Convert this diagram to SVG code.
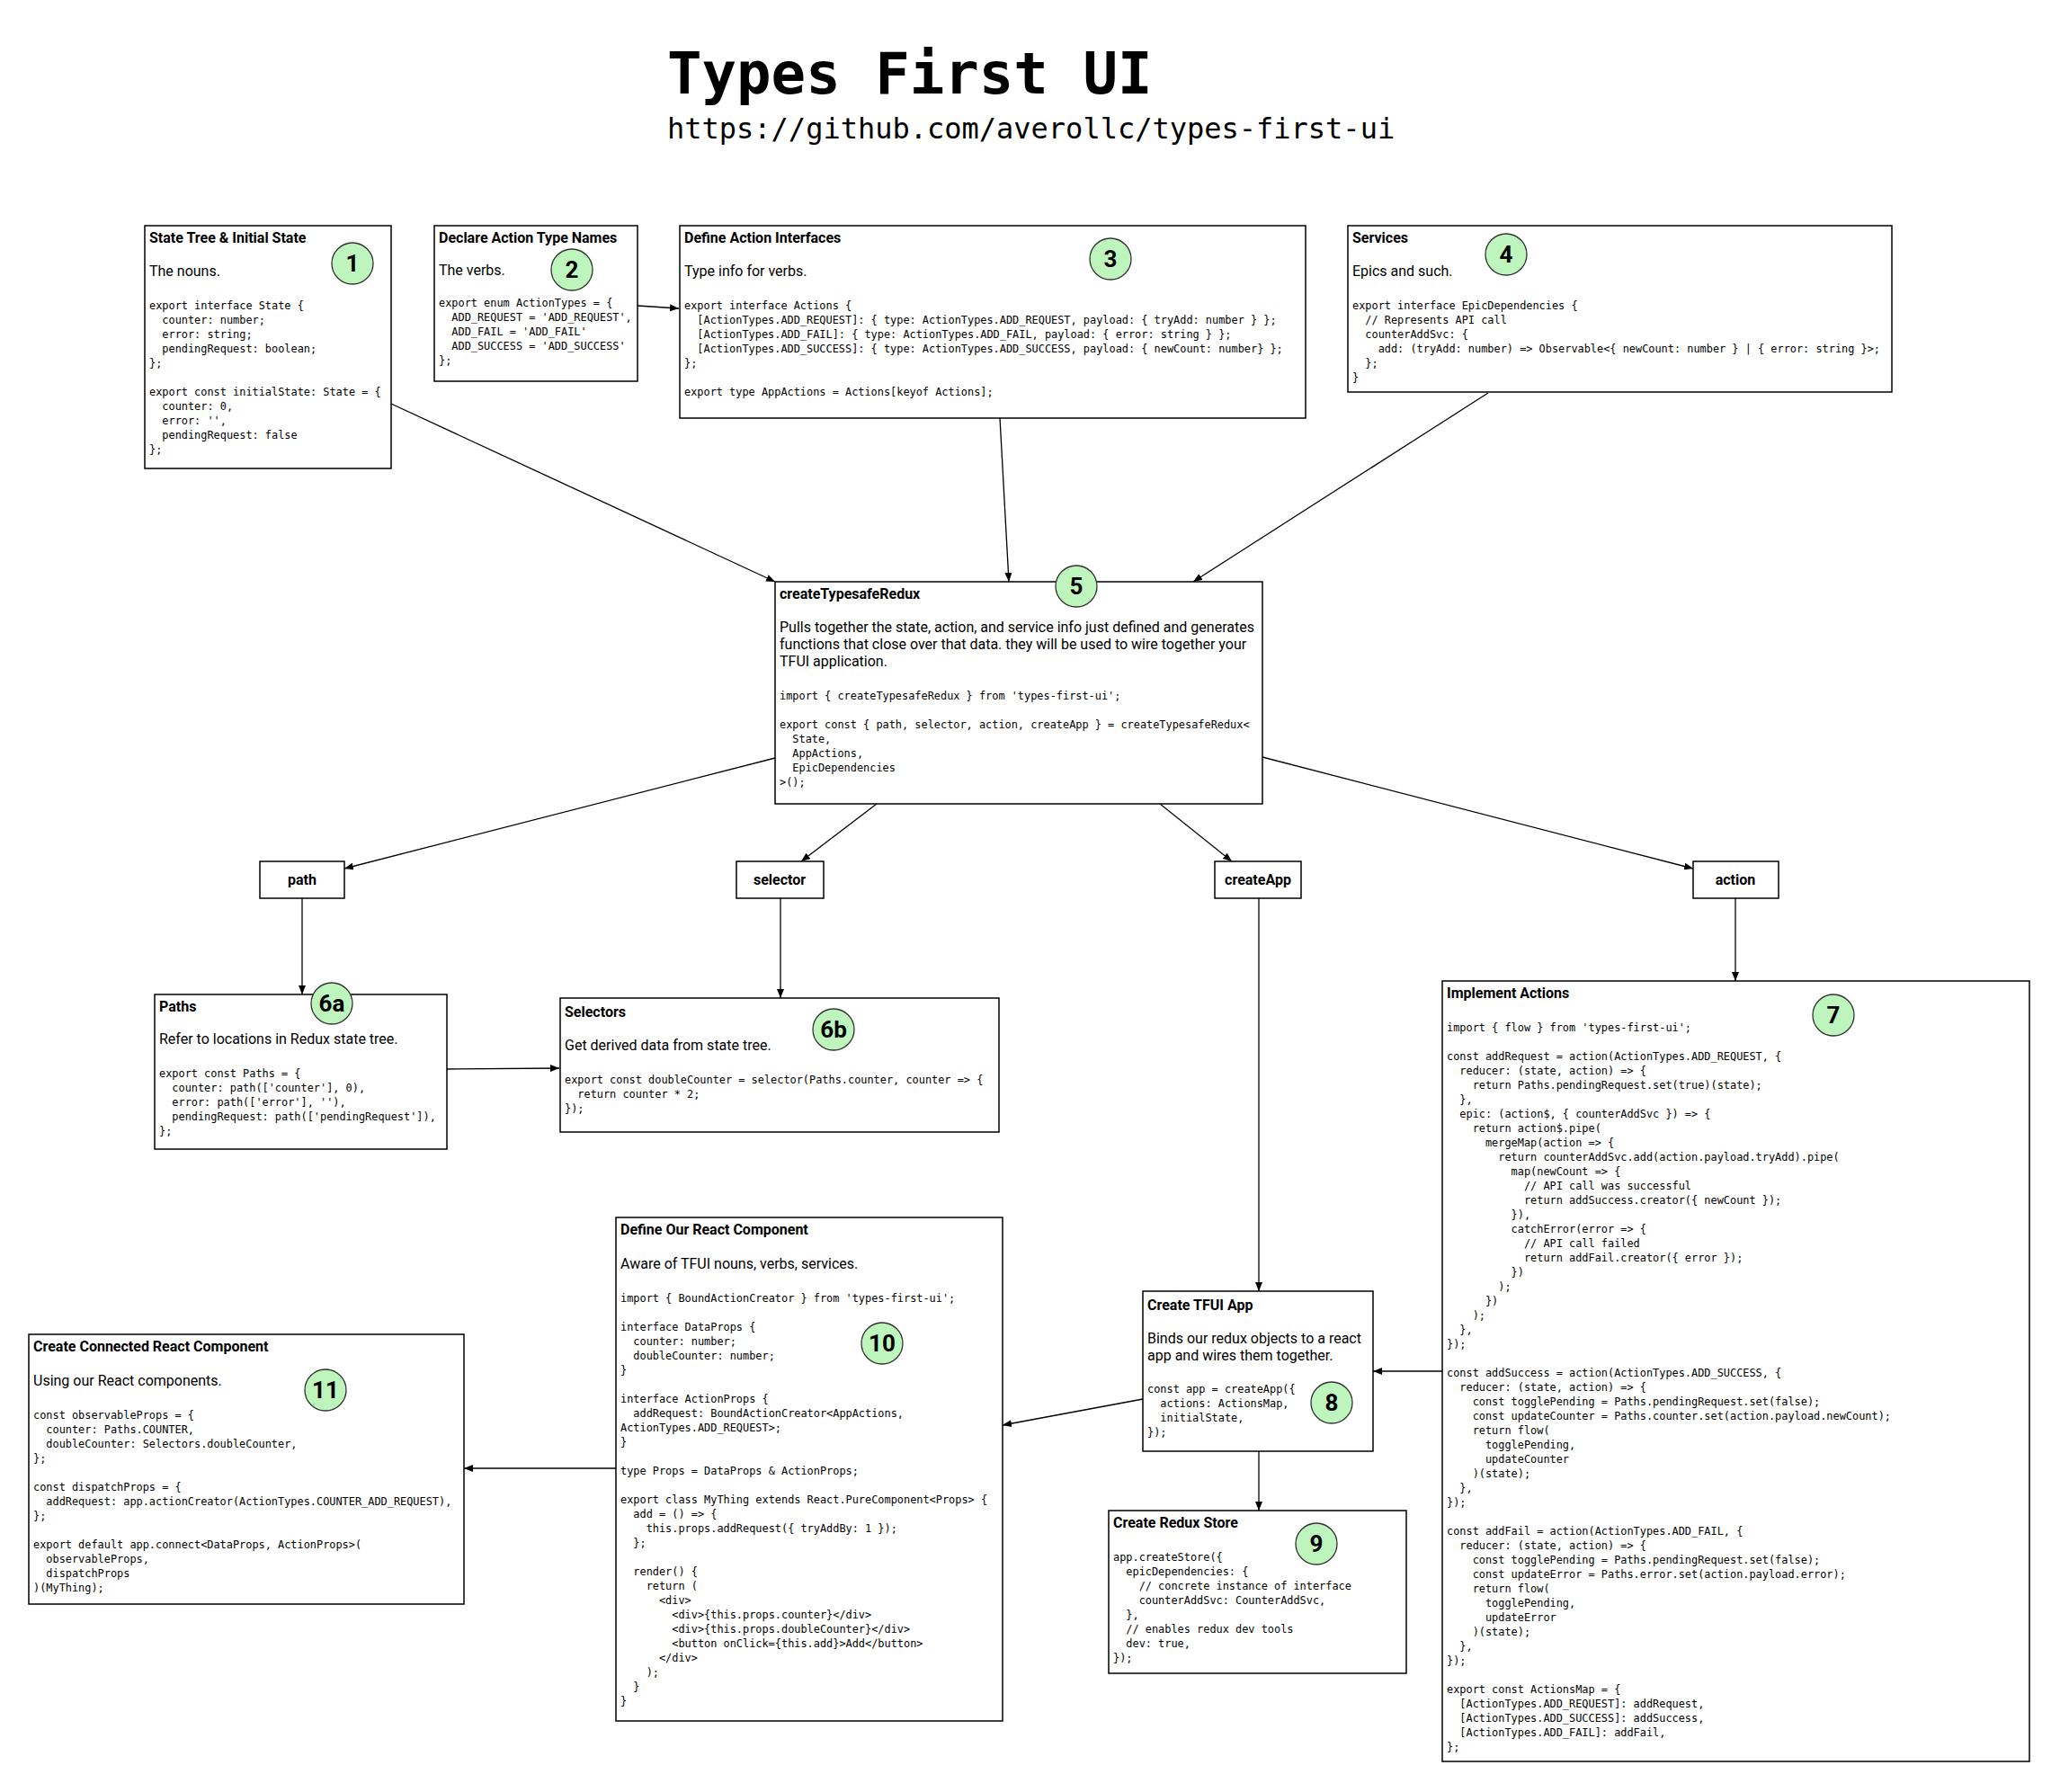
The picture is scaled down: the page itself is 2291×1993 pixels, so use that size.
<svg xmlns="http://www.w3.org/2000/svg" width="2291" height="1993" viewBox="0 0 2291 1993">
<defs>
<style>
.bg{fill:#fff}
.box{fill:#fff;stroke:#000;stroke-width:1.5}
.ttl{font-family:Roboto,"Liberation Sans",sans-serif;font-weight:700;font-size:16px;fill:#000}
.lbl{font-family:Roboto,"Liberation Sans",sans-serif;font-weight:700;font-size:16px;fill:#000;text-anchor:middle}
.body{font-family:Roboto,"Liberation Sans",sans-serif;font-size:16px;fill:#000}
.code{font-family:"DejaVu Sans Mono","Liberation Mono",monospace;font-size:11.9px;fill:#000;white-space:pre}
.badge circle{fill:#bdf5bd;stroke:#333;stroke-width:1.3}
.badge text{font-family:Roboto,"Liberation Sans",sans-serif;font-weight:700;font-size:26px;fill:#000;text-anchor:middle}
.edge{stroke:#000;stroke-width:1.3;fill:none;marker-end:url(#arr)}
.h1{font-family:"DejaVu Sans Mono","Liberation Mono",monospace;font-weight:700;font-size:64px;fill:#000}
.h2{font-family:"DejaVu Sans Mono","Liberation Mono",monospace;font-size:32px;fill:#000}
</style>
<marker id="arr" viewBox="0 0 10 8" refX="10" refY="4" markerWidth="10" markerHeight="8" markerUnits="userSpaceOnUse" orient="auto">
<path d="M0,0 L10,4 L0,8 z" fill="#000"/>
</marker>
</defs>
<rect class="bg" x="0" y="0" width="2291" height="1993"/>

<g id="title">
<text class="h1" x="742" y="104">Types First UI</text>
<text class="h2" x="742" y="154">https://github.com/averollc/types-first-ui</text>
</g>

<g id="connectors">
<line class="edge" x1="435" y1="449" x2="862" y2="647"/>
<line class="edge" x1="709" y1="340" x2="755" y2="343"/>
<line class="edge" x1="1112" y1="465" x2="1122" y2="647"/>
<line class="edge" x1="1655" y1="437" x2="1327" y2="647"/>
<line class="edge" x1="862" y1="843" x2="383" y2="966"/>
<line class="edge" x1="975" y1="894" x2="891" y2="958"/>
<line class="edge" x1="1290" y1="894" x2="1370" y2="958"/>
<line class="edge" x1="1404" y1="842" x2="1883" y2="966"/>
<line class="edge" x1="336" y1="999" x2="336" y2="1106"/>
<line class="edge" x1="868" y1="999" x2="868" y2="1110"/>
<line class="edge" x1="1400" y1="999" x2="1400" y2="1436"/>
<line class="edge" x1="1930" y1="999" x2="1930" y2="1091"/>
<line class="edge" x1="497" y1="1189" x2="622" y2="1188"/>
<line class="edge" x1="1604" y1="1525" x2="1527" y2="1525"/>
<line class="edge" x1="1271" y1="1556" x2="1115" y2="1585"/>
<line class="edge" x1="1400" y1="1614" x2="1400" y2="1680"/>
<line class="edge" x1="685" y1="1633" x2="516" y2="1633"/>
</g>

<g id="node1">
<rect class="box" x="161" y="251" width="274" height="270"/>
<text class="ttl" x="166" y="270">State Tree &amp; Initial State</text>
<text class="body" x="166" y="307">The nouns.</text>
<text class="code">
<tspan x="166" y="344">export interface State {</tspan>
<tspan x="166" y="360">  counter: number;</tspan>
<tspan x="166" y="376">  error: string;</tspan>
<tspan x="166" y="392">  pendingRequest: boolean;</tspan>
<tspan x="166" y="408">};</tspan>
<tspan x="166" y="440">export const initialState: State = {</tspan>
<tspan x="166" y="456">  counter: 0,</tspan>
<tspan x="166" y="472">  error: '',</tspan>
<tspan x="166" y="488">  pendingRequest: false</tspan>
<tspan x="166" y="504">};</tspan>
</text>
<g class="badge"><circle cx="392" cy="293" r="23"/><text x="392" y="302">1</text></g>
</g>

<g id="node2">
<rect class="box" x="483" y="251" width="226" height="173"/>
<text class="ttl" x="488" y="270">Declare Action Type Names</text>
<text class="body" x="488" y="306">The verbs.</text>
<text class="code">
<tspan x="488" y="341">export enum ActionTypes = {</tspan>
<tspan x="488" y="357">  ADD_REQUEST = 'ADD_REQUEST',</tspan>
<tspan x="488" y="373">  ADD_FAIL = 'ADD_FAIL'</tspan>
<tspan x="488" y="389">  ADD_SUCCESS = 'ADD_SUCCESS'</tspan>
<tspan x="488" y="405">};</tspan>
</text>
<g class="badge"><circle cx="636" cy="300" r="23"/><text x="636" y="309">2</text></g>
</g>

<g id="node3">
<rect class="box" x="756" y="251" width="696" height="214"/>
<text class="ttl" x="761" y="270">Define Action Interfaces</text>
<text class="body" x="761" y="307">Type info for verbs.</text>
<text class="code">
<tspan x="761" y="344">export interface Actions {</tspan>
<tspan x="761" y="360">  [ActionTypes.ADD_REQUEST]: { type: ActionTypes.ADD_REQUEST, payload: { tryAdd: number } };</tspan>
<tspan x="761" y="376">  [ActionTypes.ADD_FAIL]: { type: ActionTypes.ADD_FAIL, payload: { error: string } };</tspan>
<tspan x="761" y="392">  [ActionTypes.ADD_SUCCESS]: { type: ActionTypes.ADD_SUCCESS, payload: { newCount: number} };</tspan>
<tspan x="761" y="408">};</tspan>
<tspan x="761" y="440">export type AppActions = Actions[keyof Actions];</tspan>
</text>
<g class="badge"><circle cx="1235" cy="288" r="23"/><text x="1235" y="297">3</text></g>
</g>

<g id="node4">
<rect class="box" x="1499" y="251" width="605" height="185"/>
<text class="ttl" x="1504" y="270">Services</text>
<text class="body" x="1504" y="307">Epics and such.</text>
<text class="code">
<tspan x="1504" y="344">export interface EpicDependencies {</tspan>
<tspan x="1504" y="360">  // Represents API call</tspan>
<tspan x="1504" y="376">  counterAddSvc: {</tspan>
<tspan x="1504" y="392">    add: (tryAdd: number) =&gt; Observable&lt;{ newCount: number } | { error: string }&gt;;</tspan>
<tspan x="1504" y="408">  };</tspan>
<tspan x="1504" y="424">}</tspan>
</text>
<g class="badge"><circle cx="1675" cy="283" r="23"/><text x="1675" y="292">4</text></g>
</g>

<g id="node5">
<rect class="box" x="862" y="647" width="542" height="247"/>
<text class="ttl" x="867" y="666">createTypesafeRedux</text>
<text class="body">
<tspan x="867" y="703">Pulls together the state, action, and service info just defined and generates</tspan>
<tspan x="867" y="722">functions that close over that data. they will be used to wire together your</tspan>
<tspan x="867" y="741">TFUI application.</tspan>
</text>
<text class="code">
<tspan x="867" y="778">import { createTypesafeRedux } from 'types-first-ui';</tspan>
<tspan x="867" y="810">export const { path, selector, action, createApp } = createTypesafeRedux&lt;</tspan>
<tspan x="867" y="826">  State,</tspan>
<tspan x="867" y="842">  AppActions,</tspan>
<tspan x="867" y="858">  EpicDependencies</tspan>
<tspan x="867" y="874">&gt;();</tspan>
</text>
<g class="badge"><circle cx="1197" cy="652" r="23"/><text x="1197" y="661">5</text></g>
</g>

<g id="label-path">
<rect class="box" x="289" y="958" width="94" height="41"/>
<text class="lbl" x="336" y="984">path</text>
</g>
<g id="label-selector">
<rect class="box" x="819" y="958" width="97" height="41"/>
<text class="lbl" x="867" y="984">selector</text>
</g>
<g id="label-createApp">
<rect class="box" x="1351" y="958" width="96" height="41"/>
<text class="lbl" x="1399" y="984">createApp</text>
</g>
<g id="label-action">
<rect class="box" x="1883" y="958" width="95" height="41"/>
<text class="lbl" x="1930" y="984">action</text>
</g>

<g id="node6a">
<rect class="box" x="172" y="1106" width="325" height="172"/>
<text class="ttl" x="177" y="1125">Paths</text>
<text class="body" x="177" y="1161">Refer to locations in Redux state tree.</text>
<text class="code">
<tspan x="177" y="1198">export const Paths = {</tspan>
<tspan x="177" y="1214">  counter: path(['counter'], 0),</tspan>
<tspan x="177" y="1230">  error: path(['error'], ''),</tspan>
<tspan x="177" y="1246">  pendingRequest: path(['pendingRequest']),</tspan>
<tspan x="177" y="1262">};</tspan>
</text>
<g class="badge"><circle cx="369" cy="1116" r="23"/><text x="369" y="1125">6a</text></g>
</g>

<g id="node6b">
<rect class="box" x="623" y="1110" width="488" height="149"/>
<text class="ttl" x="628" y="1131">Selectors</text>
<text class="body" x="628" y="1168">Get derived data from state tree.</text>
<text class="code">
<tspan x="628" y="1205">export const doubleCounter = selector(Paths.counter, counter =&gt; {</tspan>
<tspan x="628" y="1221">  return counter * 2;</tspan>
<tspan x="628" y="1237">});</tspan>
</text>
<g class="badge"><circle cx="927" cy="1145" r="23"/><text x="927" y="1154">6b</text></g>
</g>

<g id="node7">
<rect class="box" x="1604" y="1091" width="653" height="868"/>
<text class="ttl" x="1609" y="1110">Implement Actions</text>
<text class="code">
<tspan x="1609" y="1147">import { flow } from 'types-first-ui';</tspan>
<tspan x="1609" y="1179">const addRequest = action(ActionTypes.ADD_REQUEST, {</tspan>
<tspan x="1609" y="1195">  reducer: (state, action) =&gt; {</tspan>
<tspan x="1609" y="1211">    return Paths.pendingRequest.set(true)(state);</tspan>
<tspan x="1609" y="1227">  },</tspan>
<tspan x="1609" y="1243">  epic: (action$, { counterAddSvc }) =&gt; {</tspan>
<tspan x="1609" y="1259">    return action$.pipe(</tspan>
<tspan x="1609" y="1275">      mergeMap(action =&gt; {</tspan>
<tspan x="1609" y="1291">        return counterAddSvc.add(action.payload.tryAdd).pipe(</tspan>
<tspan x="1609" y="1307">          map(newCount =&gt; {</tspan>
<tspan x="1609" y="1323">            // API call was successful</tspan>
<tspan x="1609" y="1339">            return addSuccess.creator({ newCount });</tspan>
<tspan x="1609" y="1355">          }),</tspan>
<tspan x="1609" y="1371">          catchError(error =&gt; {</tspan>
<tspan x="1609" y="1387">            // API call failed</tspan>
<tspan x="1609" y="1403">            return addFail.creator({ error });</tspan>
<tspan x="1609" y="1419">          })</tspan>
<tspan x="1609" y="1435">        );</tspan>
<tspan x="1609" y="1451">      })</tspan>
<tspan x="1609" y="1467">    );</tspan>
<tspan x="1609" y="1483">  },</tspan>
<tspan x="1609" y="1499">});</tspan>
<tspan x="1609" y="1531">const addSuccess = action(ActionTypes.ADD_SUCCESS, {</tspan>
<tspan x="1609" y="1547">  reducer: (state, action) =&gt; {</tspan>
<tspan x="1609" y="1563">    const togglePending = Paths.pendingRequest.set(false);</tspan>
<tspan x="1609" y="1579">    const updateCounter = Paths.counter.set(action.payload.newCount);</tspan>
<tspan x="1609" y="1595">    return flow(</tspan>
<tspan x="1609" y="1611">      togglePending,</tspan>
<tspan x="1609" y="1627">      updateCounter</tspan>
<tspan x="1609" y="1643">    )(state);</tspan>
<tspan x="1609" y="1659">  },</tspan>
<tspan x="1609" y="1675">});</tspan>
<tspan x="1609" y="1707">const addFail = action(ActionTypes.ADD_FAIL, {</tspan>
<tspan x="1609" y="1723">  reducer: (state, action) =&gt; {</tspan>
<tspan x="1609" y="1739">    const togglePending = Paths.pendingRequest.set(false);</tspan>
<tspan x="1609" y="1755">    const updateError = Paths.error.set(action.payload.error);</tspan>
<tspan x="1609" y="1771">    return flow(</tspan>
<tspan x="1609" y="1787">      togglePending,</tspan>
<tspan x="1609" y="1803">      updateError</tspan>
<tspan x="1609" y="1819">    )(state);</tspan>
<tspan x="1609" y="1835">  },</tspan>
<tspan x="1609" y="1851">});</tspan>
<tspan x="1609" y="1883">export const ActionsMap = {</tspan>
<tspan x="1609" y="1899">  [ActionTypes.ADD_REQUEST]: addRequest,</tspan>
<tspan x="1609" y="1915">  [ActionTypes.ADD_SUCCESS]: addSuccess,</tspan>
<tspan x="1609" y="1931">  [ActionTypes.ADD_FAIL]: addFail,</tspan>
<tspan x="1609" y="1947">};</tspan>
</text>
<g class="badge"><circle cx="2039" cy="1129" r="23"/><text x="2039" y="1138">7</text></g>
</g>

<g id="node8">
<rect class="box" x="1271" y="1436" width="256" height="178"/>
<text class="ttl" x="1276" y="1457">Create TFUI App</text>
<text class="body">
<tspan x="1276" y="1494">Binds our redux objects to a react</tspan>
<tspan x="1276" y="1513">app and wires them together.</tspan>
</text>
<text class="code">
<tspan x="1276" y="1549">const app = createApp({</tspan>
<tspan x="1276" y="1565">  actions: ActionsMap,</tspan>
<tspan x="1276" y="1581">  initialState,</tspan>
<tspan x="1276" y="1597">});</tspan>
</text>
<g class="badge"><circle cx="1481" cy="1560" r="23"/><text x="1481" y="1569">8</text></g>
</g>

<g id="node9">
<rect class="box" x="1233" y="1680" width="331" height="181"/>
<text class="ttl" x="1238" y="1699">Create Redux Store</text>
<text class="code">
<tspan x="1238" y="1736">app.createStore({</tspan>
<tspan x="1238" y="1752">  epicDependencies: {</tspan>
<tspan x="1238" y="1768">    // concrete instance of interface</tspan>
<tspan x="1238" y="1784">    counterAddSvc: CounterAddSvc,</tspan>
<tspan x="1238" y="1800">  },</tspan>
<tspan x="1238" y="1816">  // enables redux dev tools</tspan>
<tspan x="1238" y="1832">  dev: true,</tspan>
<tspan x="1238" y="1848">});</tspan>
</text>
<g class="badge"><circle cx="1464" cy="1717" r="23"/><text x="1464" y="1726">9</text></g>
</g>

<g id="node10">
<rect class="box" x="685" y="1354" width="430" height="560"/>
<text class="ttl" x="690" y="1373">Define Our React Component</text>
<text class="body" x="690" y="1411">Aware of TFUI nouns, verbs, services.</text>
<text class="code">
<tspan x="690" y="1448">import { BoundActionCreator } from 'types-first-ui';</tspan>
<tspan x="690" y="1480">interface DataProps {</tspan>
<tspan x="690" y="1496">  counter: number;</tspan>
<tspan x="690" y="1512">  doubleCounter: number;</tspan>
<tspan x="690" y="1528">}</tspan>
<tspan x="690" y="1560">interface ActionProps {</tspan>
<tspan x="690" y="1576">  addRequest: BoundActionCreator&lt;AppActions,</tspan>
<tspan x="690" y="1592">ActionTypes.ADD_REQUEST&gt;;</tspan>
<tspan x="690" y="1608">}</tspan>
<tspan x="690" y="1640">type Props = DataProps &amp; ActionProps;</tspan>
<tspan x="690" y="1672">export class MyThing extends React.PureComponent&lt;Props&gt; {</tspan>
<tspan x="690" y="1688">  add = () =&gt; {</tspan>
<tspan x="690" y="1704">    this.props.addRequest({ tryAddBy: 1 });</tspan>
<tspan x="690" y="1720">  };</tspan>
<tspan x="690" y="1752">  render() {</tspan>
<tspan x="690" y="1768">    return (</tspan>
<tspan x="690" y="1784">      &lt;div&gt;</tspan>
<tspan x="690" y="1800">        &lt;div&gt;{this.props.counter}&lt;/div&gt;</tspan>
<tspan x="690" y="1816">        &lt;div&gt;{this.props.doubleCounter}&lt;/div&gt;</tspan>
<tspan x="690" y="1832">        &lt;button onClick={this.add}&gt;Add&lt;/button&gt;</tspan>
<tspan x="690" y="1848">      &lt;/div&gt;</tspan>
<tspan x="690" y="1864">    );</tspan>
<tspan x="690" y="1880">  }</tspan>
<tspan x="690" y="1896">}</tspan>
</text>
<g class="badge"><circle cx="981" cy="1494" r="23"/><text x="981" y="1503">10</text></g>
</g>

<g id="node11">
<rect class="box" x="32" y="1484" width="484" height="300"/>
<text class="ttl" x="37" y="1503">Create Connected React Component</text>
<text class="body" x="37" y="1541">Using our React components.</text>
<text class="code">
<tspan x="37" y="1578">const observableProps = {</tspan>
<tspan x="37" y="1594">  counter: Paths.COUNTER,</tspan>
<tspan x="37" y="1610">  doubleCounter: Selectors.doubleCounter,</tspan>
<tspan x="37" y="1626">};</tspan>
<tspan x="37" y="1658">const dispatchProps = {</tspan>
<tspan x="37" y="1674">  addRequest: app.actionCreator(ActionTypes.COUNTER_ADD_REQUEST),</tspan>
<tspan x="37" y="1690">};</tspan>
<tspan x="37" y="1722">export default app.connect&lt;DataProps, ActionProps&gt;(</tspan>
<tspan x="37" y="1738">  observableProps,</tspan>
<tspan x="37" y="1754">  dispatchProps</tspan>
<tspan x="37" y="1770">)(MyThing);</tspan>
</text>
<g class="badge"><circle cx="362" cy="1546" r="23"/><text x="362" y="1555">11</text></g>
</g>
</svg>
